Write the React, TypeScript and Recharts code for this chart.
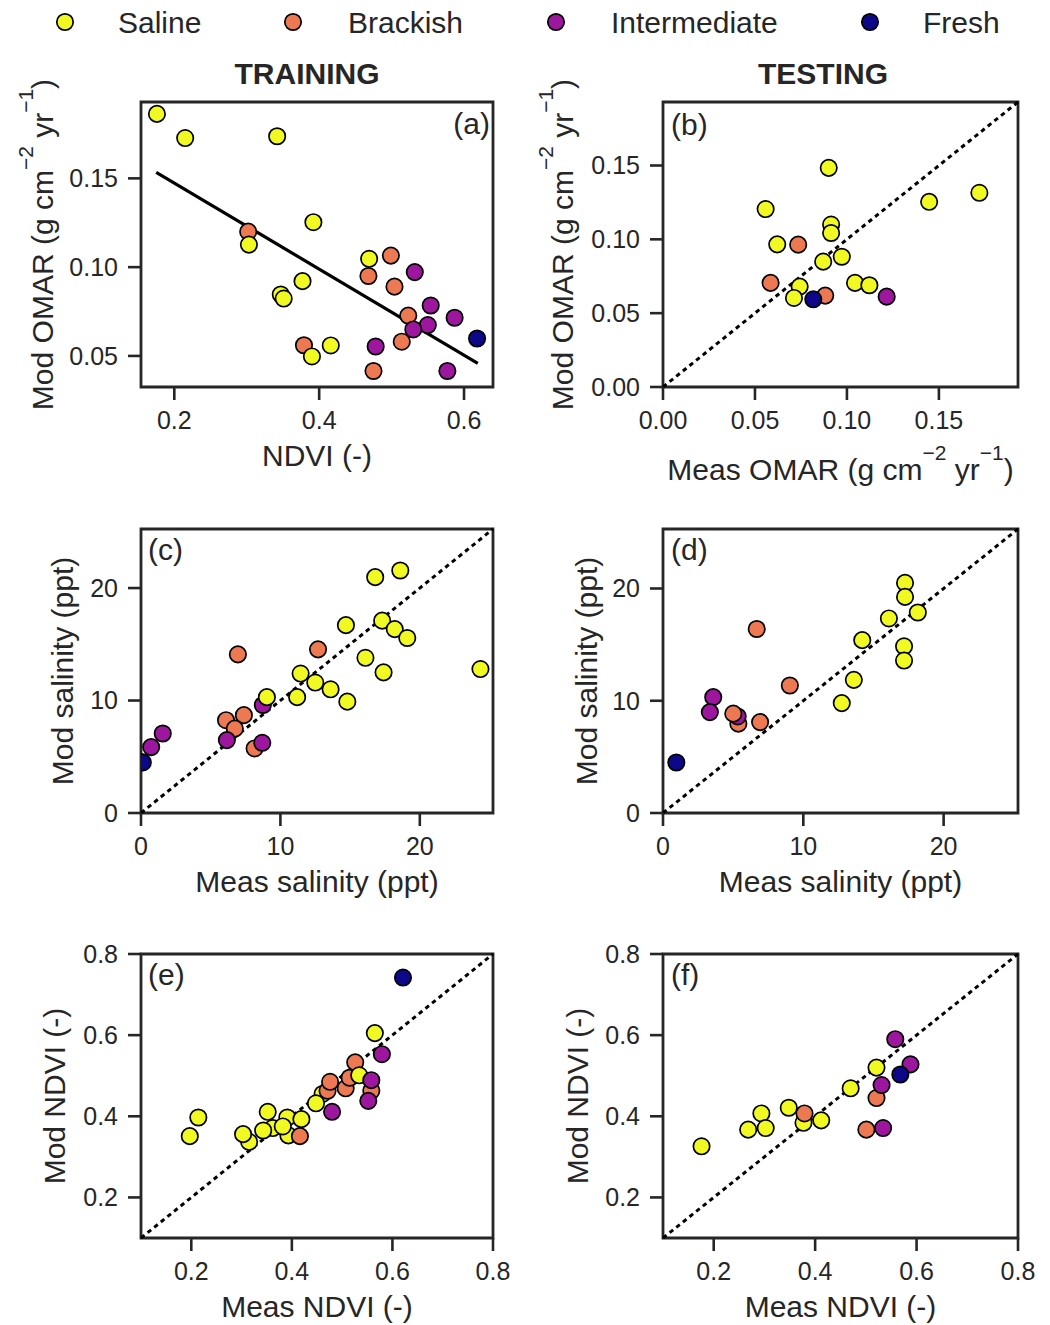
import { ScatterChart, Scatter, XAxis, YAxis, ReferenceLine, ReferenceArea } from "recharts"

type Cls = "S" | "B" | "I" | "F"
type Pt = [number, number, Cls]

const classKeys: Cls[] = ["S", "B", "I", "F"]
const classNames = ["Saline", "Brackish", "Intermediate", "Fresh"]
const classColors: Record<Cls, string> = { S: "#f0f921", B: "#ed7953", I: "#9c179e", F: "#0d0887" }

// (a) training: NDVI vs modelled OMAR
const trainOmar: Pt[] = [
  [0.302, 0.120, "B"], [0.499, 0.1065, "B"], [0.468, 0.095, "B"], [0.504, 0.089, "B"],
  [0.523, 0.0727, "B"], [0.514, 0.058, "B"], [0.379, 0.056, "B"], [0.475, 0.0415, "B"],
  [0.176, 0.1863, "S"], [0.215, 0.1727, "S"], [0.342, 0.1737, "S"], [0.392, 0.1253, "S"],
  [0.303, 0.1127, "S"], [0.347, 0.0846, "S"], [0.351, 0.0823, "S"], [0.377, 0.0921, "S"],
  [0.469, 0.1047, "S"], [0.416, 0.0559, "S"], [0.390, 0.0497, "S"],
  [0.532, 0.0972, "I"], [0.554, 0.0784, "I"], [0.587, 0.0715, "I"], [0.550, 0.0674, "I"],
  [0.530, 0.0649, "I"], [0.478, 0.0553, "I"], [0.577, 0.0415, "I"],
  [0.618, 0.0598, "F"],
]
const trainOmarFit = [{ x: 0.175, y: 0.1534 }, { x: 0.619, y: 0.0458 }]

// (b) testing: measured vs modelled OMAR
const testOmar: Pt[] = [
  [0.0901, 0.1484, "S"], [0.0558, 0.1205, "S"], [0.1447, 0.1254, "S"], [0.172, 0.1315, "S"],
  [0.0914, 0.110, "S"], [0.0914, 0.1043, "S"], [0.0621, 0.0966, "S"], [0.0972, 0.0882, "S"],
  [0.0871, 0.0849, "S"], [0.1044, 0.0705, "S"], [0.1122, 0.0689, "S"], [0.0743, 0.068, "S"],
  [0.0712, 0.0603, "S"],
  [0.0735, 0.0964, "B"], [0.0585, 0.0705, "B"], [0.0882, 0.0619, "B"],
  [0.1216, 0.0612, "I"],
  [0.0817, 0.0594, "F"],
]

// (c) training salinity
const trainSalinity: Pt[] = [
  [6.1, 8.25, "B"], [7.38, 8.7, "B"], [6.73, 7.5, "B"], [6.95, 14.1, "B"], [12.7, 14.55, "B"], [8.15, 5.74, "B"],
  [1.56, 7.07, "I"], [0.73, 5.86, "I"], [6.16, 6.48, "I"], [8.7, 6.24, "I"], [8.74, 9.6, "I"],
  [18.6, 21.56, "S"], [16.8, 20.97, "S"], [17.3, 17.1, "S"], [18.2, 16.35, "S"], [19.1, 15.56, "S"],
  [14.7, 16.7, "S"], [16.1, 13.8, "S"], [17.4, 12.5, "S"], [24.35, 12.8, "S"], [11.45, 12.4, "S"],
  [12.5, 11.6, "S"], [13.6, 11.0, "S"], [11.2, 10.3, "S"], [14.8, 9.9, "S"], [9.03, 10.3, "S"],
  [0.13, 4.5, "F"],
]

// (d) testing salinity
const testSalinity: Pt[] = [
  [17.25, 20.5, "S"], [17.25, 19.25, "S"], [18.16, 17.86, "S"], [16.1, 17.33, "S"], [14.2, 15.4, "S"],
  [17.18, 14.85, "S"], [17.18, 13.58, "S"], [13.6, 11.86, "S"], [12.74, 9.79, "S"],
  [6.68, 16.39, "B"], [9.04, 11.36, "B"], [6.92, 8.1, "B"], [5.37, 7.96, "B"],
  [3.58, 10.32, "I"], [3.34, 8.99, "I"], [5.32, 8.6, "I"],
  [5.01, 8.85, "B"],
  [0.95, 4.5, "F"],
]

// (e) training NDVI
const trainNdvi: Pt[] = [
  [0.214, 0.397, "S"], [0.197, 0.351, "S"], [0.352, 0.411, "S"], [0.315, 0.337, "S"], [0.303, 0.356, "S"],
  [0.362, 0.371, "S"], [0.343, 0.365, "S"], [0.393, 0.353, "S"], [0.391, 0.397, "S"], [0.382, 0.375, "S"],
  [0.419, 0.393, "S"], [0.461, 0.455, "S"], [0.448, 0.432, "S"],
  [0.416, 0.351, "B"], [0.471, 0.463, "B"], [0.476, 0.485, "B"], [0.507, 0.469, "B"], [0.515, 0.495, "B"],
  [0.526, 0.533, "B"], [0.558, 0.463, "B"],
  [0.534, 0.501, "S"], [0.565, 0.605, "S"],
  [0.579, 0.553, "I"], [0.558, 0.489, "I"], [0.552, 0.438, "I"], [0.480, 0.411, "I"],
  [0.621, 0.742, "F"],
]

// (f) testing NDVI
const testNdvi: Pt[] = [
  [0.176, 0.326, "S"], [0.268, 0.367, "S"], [0.294, 0.407, "S"], [0.3025, 0.371, "S"], [0.348, 0.421, "S"],
  [0.377, 0.384, "S"], [0.412, 0.390, "S"], [0.470, 0.469, "S"], [0.521, 0.520, "S"],
  [0.379, 0.407, "B"], [0.521, 0.445, "B"], [0.501, 0.367, "B"],
  [0.558, 0.590, "I"], [0.588, 0.528, "I"], [0.531, 0.477, "I"], [0.534, 0.371, "I"],
  [0.568, 0.503, "F"],
]

const omarYTicks = [0.05, 0.1, 0.15]
const omarTestTicks = [0, 0.05, 0.1, 0.15]
const ndviXTicksA = [0.2, 0.4, 0.6]
const salinityTicks = [0, 10, 20]
const ndviTicks = [0.2, 0.4, 0.6, 0.8]

const ink = "#262626"
const font = "'Liberation Sans', Arial, Helvetica, sans-serif"

type Box = { x: number; y: number; w: number; h: number }

function Panel(props: {
  box: Box
  data: Pt[]
  xDomain: [number, number]
  yDomain: [number, number]
  xTicks: number[]
  yTicks: number[]
  xDigits: number
  yDigits: number
  fit?: { x: number; y: number }[]
  diagonal?: boolean
}) {
  const { box, data, xDomain, yDomain, xTicks, yTicks, xDigits, yDigits, fit, diagonal } = props
  const ml = 130, mt = 15, mr = 32, mb = 60
  const rows = data.map(([x, y, c]) => ({ x, y, c }))
  return (
    <div style={{ position: "absolute", left: box.x - ml, top: box.y - mt }}>
      <ScatterChart
        width={ml + box.w + mr}
        height={mt + box.h + mb}
        margin={{ top: mt, right: mr, left: 0, bottom: 0 }}
      >
        <XAxis
          type="number"
          dataKey="x"
          domain={xDomain}
          ticks={xTicks}
          interval={0}
          allowDataOverflow
          height={mb}
          axisLine={false}
          tickSize={13}
          tickMargin={11}
          tickLine={{ stroke: ink, strokeWidth: 2.6 }}
          tick={{ fontSize: 25, fill: ink }}
          tickFormatter={(v: number) => v.toFixed(xDigits)}
        />
        <YAxis
          type="number"
          dataKey="y"
          domain={yDomain}
          ticks={yTicks}
          interval={0}
          allowDataOverflow
          width={ml}
          axisLine={false}
          tickSize={13}
          tickMargin={10}
          tickLine={{ stroke: ink, strokeWidth: 2.6 }}
          tick={{ fontSize: 25, fill: ink }}
          tickFormatter={(v: number) => v.toFixed(yDigits)}
        />
        <Scatter
          data={rows}
          isAnimationActive={false}
          shape={(p: any) => (
            <circle cx={p.cx} cy={p.cy} r={8.2} fill={classColors[p.payload.c as Cls]} stroke="#000" strokeWidth={1.7} />
          )}
        />
        {diagonal && (
          <ReferenceLine
            segment={[{ x: xDomain[0], y: yDomain[0] }, { x: xDomain[1], y: yDomain[1] }]}
            stroke="#000"
            strokeWidth={3}
            strokeDasharray="4.5 4"
          />
        )}
        {fit && <ReferenceLine segment={fit} stroke="#000" strokeWidth={3.2} />}
        <ReferenceArea
          x1={xDomain[0]}
          x2={xDomain[1]}
          y1={yDomain[0]}
          y2={yDomain[1]}
          fill="none"
          fillOpacity={0}
          stroke={ink}
          strokeWidth={2.8}
        />
      </ScatterChart>
    </div>
  )
}

function Units() {
  return (
    <>
      {"(g cm"}
      <tspan dy={-20} fontSize={21}>−2</tspan>
      <tspan dy={20}>{" yr"}</tspan>
      <tspan dy={-20} fontSize={21}>−1</tspan>
      <tspan dy={20}>)</tspan>
    </>
  )
}

const legendX = [65, 293, 556, 870]
const legendTextX = [118, 348, 611, 923]

export default function App() {
  const A: Box = { x: 141, y: 102, w: 352, h: 285 }
  const B: Box = { x: 663, y: 102, w: 355, h: 285 }
  const C: Box = { x: 141, y: 529, w: 352, h: 284 }
  const D: Box = { x: 663, y: 529, w: 355, h: 284 }
  const E: Box = { x: 141, y: 954, w: 352, h: 284 }
  const F: Box = { x: 663, y: 954, w: 355, h: 284 }
  const yLab = (x: number, b: Box, content: any) => (
    <text transform={`translate(${x},${b.y + b.h / 2}) rotate(-90)`} textAnchor="middle" fontSize={30} fill={ink}>
      {content}
    </text>
  )
  const xLab = (b: Box, y: number, content: any) => (
    <text x={b.x + b.w / 2} y={y} textAnchor="middle" fontSize={30} fill={ink}>
      {content}
    </text>
  )
  return (
    <div style={{ position: "absolute", left: 0, top: 0, width: 1050, height: 1325, background: "#fff", fontFamily: font }}>
      <Panel box={A} data={trainOmar} xDomain={[0.154, 0.64]} yDomain={[0.0325, 0.193]} xTicks={ndviXTicksA} yTicks={omarYTicks} xDigits={1} yDigits={2} fit={trainOmarFit} />
      <Panel box={B} data={testOmar} xDomain={[0, 0.193]} yDomain={[0, 0.193]} xTicks={omarTestTicks} yTicks={omarTestTicks} xDigits={2} yDigits={2} diagonal />
      <Panel box={C} data={trainSalinity} xDomain={[0, 25.25]} yDomain={[0, 25.25]} xTicks={salinityTicks} yTicks={salinityTicks} xDigits={0} yDigits={0} diagonal />
      <Panel box={D} data={testSalinity} xDomain={[0, 25.3]} yDomain={[0, 25.3]} xTicks={salinityTicks} yTicks={salinityTicks} xDigits={0} yDigits={0} diagonal />
      <Panel box={E} data={trainNdvi} xDomain={[0.1, 0.8]} yDomain={[0.1, 0.8]} xTicks={ndviTicks} yTicks={ndviTicks} xDigits={1} yDigits={1} diagonal />
      <Panel box={F} data={testNdvi} xDomain={[0.1, 0.8]} yDomain={[0.1, 0.8]} xTicks={ndviTicks} yTicks={ndviTicks} xDigits={1} yDigits={1} diagonal />
      <svg width={1050} height={1325} style={{ position: "absolute", left: 0, top: 0, pointerEvents: "none" }} fontFamily={font}>
        {classKeys.map((k, i) => (
          <g key={k}>
            <circle cx={legendX[i]} cy={22} r={8.2} fill={classColors[k]} stroke="#000" strokeWidth={1.7} />
            <text x={legendTextX[i]} y={33} fontSize={30} fill={ink}>{classNames[i]}</text>
          </g>
        ))}
        <text x={307} y={84} textAnchor="middle" fontSize={30} fontWeight="bold" fill={ink}>TRAINING</text>
        <text x={823} y={84} textAnchor="middle" fontSize={30} fontWeight="bold" fill={ink}>TESTING</text>

        <text x={490} y={A.y + 32} textAnchor="end" fontSize={30} fill={ink}>(a)</text>
        <text x={671} y={B.y + 33} fontSize={30} fill={ink}>(b)</text>
        <text x={148} y={C.y + 31} fontSize={30} fill={ink}>(c)</text>
        <text x={671} y={D.y + 31} fontSize={30} fill={ink}>(d)</text>
        <text x={148} y={E.y + 31} fontSize={30} fill={ink}>(e)</text>
        <text x={671} y={F.y + 31} fontSize={30} fill={ink}>(f)</text>

        {yLab(53, A, <>Mod OMAR <Units /></>)}
        {yLab(573, B, <>Mod OMAR <Units /></>)}
        {yLab(73, C, "Mod salinity (ppt)")}
        {yLab(597, D, "Mod salinity (ppt)")}
        {yLab(65, E, "Mod NDVI (-)")}
        {yLab(588, F, "Mod NDVI (-)")}

        {xLab(A, 466, "NDVI (-)")}
        {xLab(B, 480, <>Meas OMAR <Units /></>)}
        {xLab(C, 892, "Meas salinity (ppt)")}
        {xLab(D, 892, "Meas salinity (ppt)")}
        {xLab(E, 1317, "Meas NDVI (-)")}
        {xLab(F, 1317, "Meas NDVI (-)")}
      </svg>
    </div>
  )
}
